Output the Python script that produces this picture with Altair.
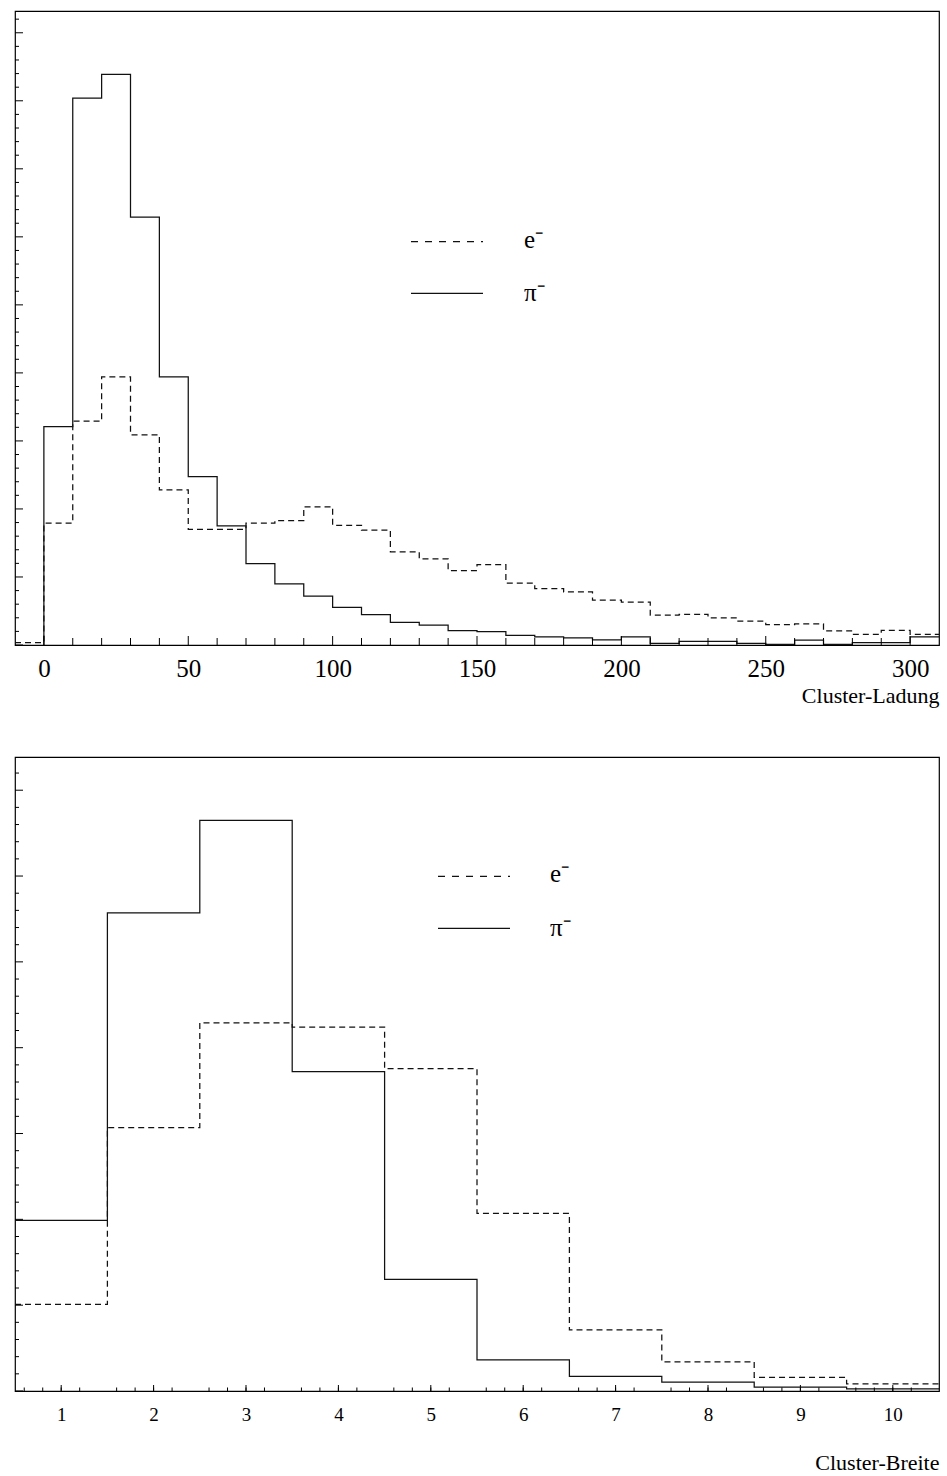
import altair as alt
import pandas as pd

# ---------------- data ----------------
# Top panel: Cluster-Ladung, bins of width 10
charge_bin = 10
charge_e_start = -10
charge_pi_start = 0
charge_e = [0.35, 17.9, 32.9, 39.4, 30.9, 22.8, 17.0, 17.0, 17.9, 18.3, 20.3,
            17.6, 16.9, 13.7, 12.65, 10.95, 11.8, 9.1, 8.3, 7.8, 6.6, 6.3,
            4.4, 4.5, 4.0, 3.5, 3.0, 3.1, 2.06, 1.57, 2.16, 1.57]
charge_pi = [32.1, 80.4, 83.9, 62.9, 39.4, 24.75, 17.5, 11.96, 9.0, 7.2, 5.54,
             4.46, 3.33, 2.94, 2.1, 1.96, 1.43, 1.18, 1.03, 0.74, 1.2, 0.25,
             0.54, 0.54, 0.25, 0.1, 0.7, 0.1, 0.34, 0.34, 1.2]
charge_labels = [0, 50, 100, 150, 200, 250, 300]

# Bottom panel: Cluster-Breite, integer bins
width_bin = 1
width_start = 0.5
width_e = [10.1, 30.7, 42.9, 42.4, 37.55, 20.7, 7.13, 3.4, 1.6, 0.84]
width_pi = [19.87, 55.7, 66.5, 37.2, 13.0, 3.64, 1.69, 1.03, 0.44, 0.26]
width_labels = [1, 2, 3, 4, 5, 6, 7, 8, 9, 10]

FONT = "Liberation Serif"
LINE = "#111111"


def steps(start, w, vals, from_zero):
    rows = []
    if from_zero:
        rows.append({"x": start, "y": 0.0})
    for i, v in enumerate(vals):
        rows.append({"x": start + i * w, "y": v})
    rows.append({"x": start + len(vals) * w, "y": vals[-1]})
    for i, r in enumerate(rows):
        r["i"] = i
    return pd.DataFrame(rows)


def panel(e_df, pi_df, xdom, ydom, w, h, xlabels, label_size, label_pad,
          title, title_y, x_major, x_minor, x_major_len, x_minor_len,
          y_major, y_minor, legend_x, legend_y1, legend_y2, text_x):
    xaxis = alt.Axis(values=xlabels, format="d", labelFont=FONT,
                     labelFontSize=label_size, labelColor="black",
                     labelPadding=label_pad, labelFlush=False,
                     ticks=False, domain=False, grid=False,
                     title=title, titleFont=FONT, titleFontSize=22,
                     titleFontWeight="normal", titleColor="black",
                     titleAnchor="end", titleAlign="right",
                     titleBaseline="alphabetic", titleX=w, titleY=title_y)
    xs = alt.Scale(domain=xdom, nice=False, zero=False)
    ys = alt.Scale(domain=ydom, nice=False, zero=False)
    X = alt.X("x:Q", scale=xs, axis=xaxis)
    Y = alt.Y("y:Q", scale=ys, axis=None)

    e_line = alt.Chart(e_df).mark_line(
        interpolate="step-after", color=LINE, strokeWidth=1.25,
        strokeDash=[6, 4], clip=True
    ).encode(x=X, y=Y, order="i:Q")
    pi_line = alt.Chart(pi_df).mark_line(
        interpolate="step-after", color=LINE, strokeWidth=1.25, clip=True
    ).encode(x=X, y=Y, order="i:Q")

    xmaj = alt.Chart(pd.DataFrame({"x": x_major})).mark_rule(
        color="black", strokeWidth=1).encode(
        x=X, y=alt.value(h), y2=alt.value(h - x_major_len))
    xmin = alt.Chart(pd.DataFrame({"x": x_minor})).mark_rule(
        color="black", strokeWidth=1).encode(
        x=X, y=alt.value(h), y2=alt.value(h - x_minor_len))
    ymaj = alt.Chart(pd.DataFrame({"y": y_major})).mark_rule(
        color="black", strokeWidth=1).encode(
        y=Y, x=alt.value(0), x2=alt.value(8))
    ymin = alt.Chart(pd.DataFrame({"y": y_minor})).mark_rule(
        color="black", strokeWidth=1).encode(
        y=Y, x=alt.value(0), x2=alt.value(4))

    leg_e = alt.Chart(pd.DataFrame({"a": [0]})).mark_rule(
        color=LINE, strokeWidth=1.25, strokeDash=[7, 7]).encode(
        x=alt.value(legend_x), x2=alt.value(legend_x + 72),
        y=alt.value(legend_y1))
    leg_pi = alt.Chart(pd.DataFrame({"a": [0]})).mark_rule(
        color=LINE, strokeWidth=1.25).encode(
        x=alt.value(legend_x), x2=alt.value(legend_x + 72),
        y=alt.value(legend_y2))
    txt_e = alt.Chart(pd.DataFrame({"a": [0]})).mark_text(
        text="e\u207b", font=FONT, fontSize=25, align="left",
        baseline="alphabetic", color="black").encode(
        x=alt.value(text_x), y=alt.value(legend_y1 + 6))
    txt_pi = alt.Chart(pd.DataFrame({"a": [0]})).mark_text(
        text="\u03c0\u207b", font=FONT, fontSize=25, align="left",
        baseline="alphabetic", color="black").encode(
        x=alt.value(text_x), y=alt.value(legend_y2 + 8))

    return alt.layer(e_line, pi_line, xmaj, xmin, ymaj, ymin,
                     leg_e, leg_pi, txt_e, txt_pi).properties(width=w, height=h)


top = panel(
    steps(charge_e_start, charge_bin, charge_e, False),
    steps(charge_pi_start, charge_bin, charge_pi, True),
    [-10, 310], [0, 93.2], 924, 634, charge_labels, 25, 11,
    "Cluster-Ladung", 57,
    list(range(0, 301, 50)), [v for v in range(10, 310, 10) if v % 50],
    9, 7,
    list(range(0, 91, 10)), [v for v in range(2, 93, 2) if v % 10],
    396, 230.7, 282.3, 509)

bottom = panel(
    steps(width_start, width_bin, width_e, False),
    steps(width_start, width_bin, width_pi, False),
    [0.5, 10.5], [0, 73.87], 924, 634, width_labels, 19, 14,
    "Cluster-Breite", 78,
    width_labels, [round(0.6 + 0.2 * k, 1) for k in range(50) if (k + 3) % 5 != 2 and 0.6 + 0.2 * k < 10.5],
    6, 3.5,
    list(range(0, 71, 10)), [v for v in range(2, 74, 2) if v % 10],
    423, 119.3, 171.3, 535)

chart = alt.vconcat(top, bottom, spacing=49).properties(
    padding={"left": 13, "top": 10, "right": 0, "bottom": 0}
).configure(
    background="white",
    view=alt.ViewConfig(stroke="black", strokeWidth=1.2),
)

chart.save("out.html", embed_options={"renderer": "svg", "actions": False})
